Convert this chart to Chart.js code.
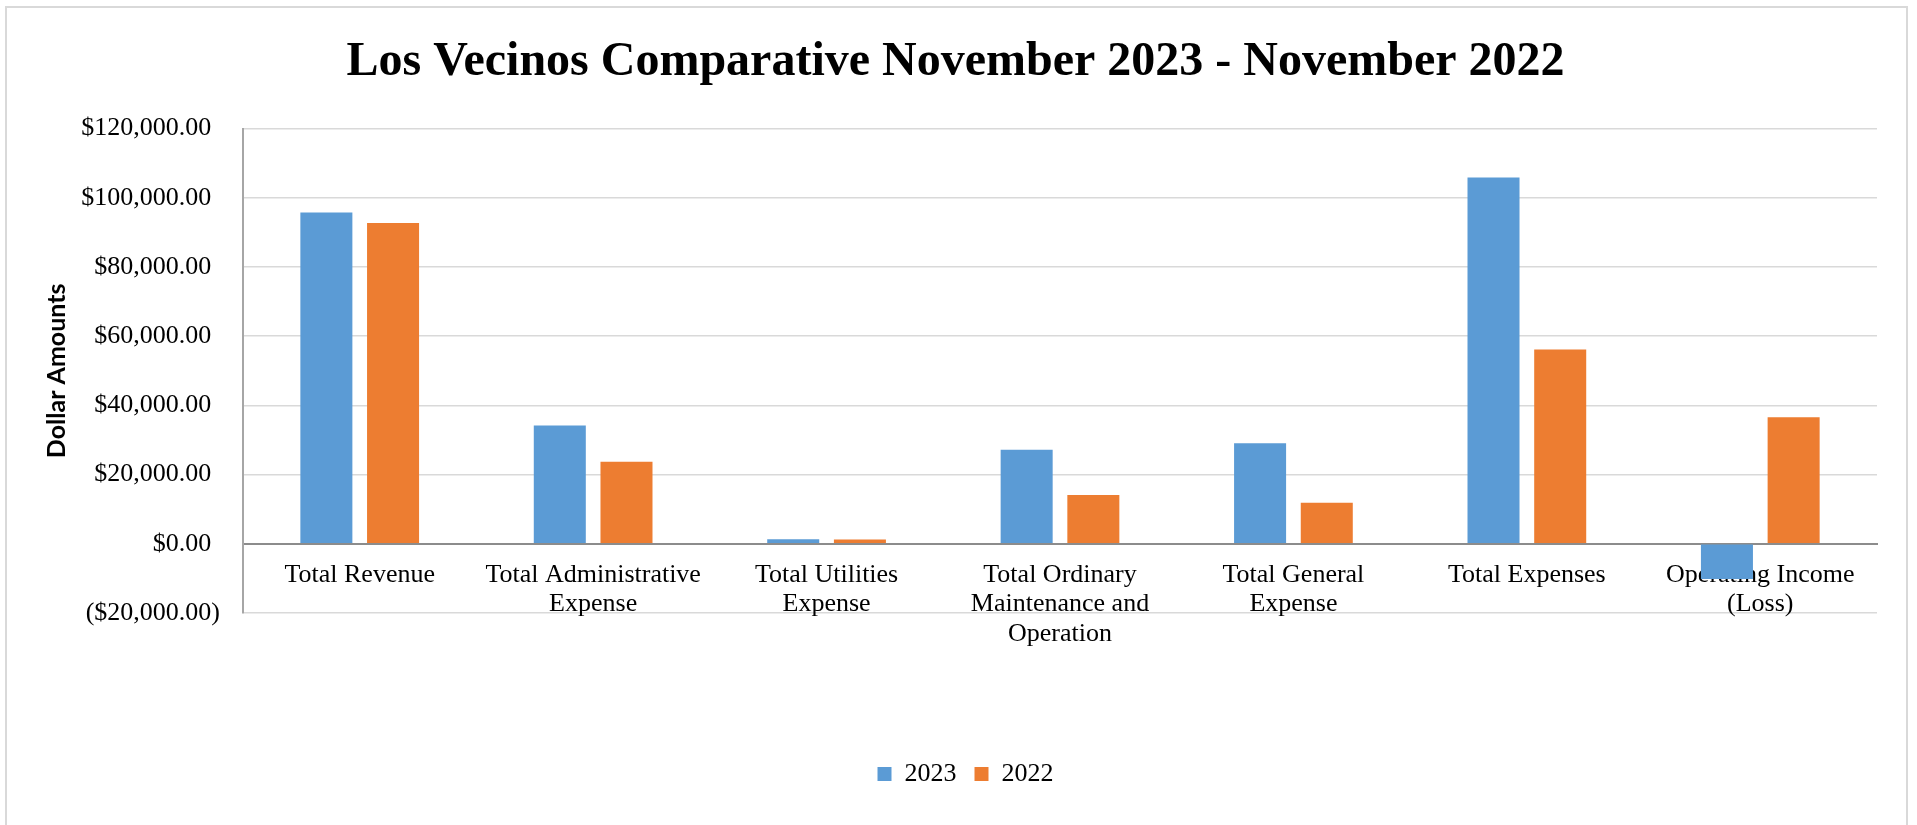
<!DOCTYPE html>
<html>
<head>
<meta charset="utf-8">
<title>Los Vecinos Comparative November 2023 - November 2022</title>
<script src="https://cdn.jsdelivr.net/npm/chart.js@4.4.1/dist/chart.umd.min.js"></script>
<style>
  html, body { margin: 0; padding: 0; background: #ffffff; }
  #wrap { position: relative; width: 1917px; height: 825px; overflow: hidden; }
  #frame {
    position: absolute; left: 5px; top: 6px; width: 1903px; height: 840px;
    border: 2px solid #d9d9d9; box-sizing: border-box; background: #ffffff;
  }
  #chart { position: absolute; left: 0; top: 0; }
</style>
</head>
<body>
<div id="wrap">
  <div id="frame"></div>
  <canvas id="chart" width="1917" height="825"></canvas>
</div>
<script>
// Categories (each entry is the wrapped label lines)
const categories = [
  ["Total Revenue"],
  ["Total Administrative", "Expense"],
  ["Total Utilities", "Expense"],
  ["Total Ordinary", "Maintenance and", "Operation"],
  ["Total General", "Expense"],
  ["Total Expenses"],
  ["Operating Income", "(Loss)"]
];

// Dollar amounts per year
const values2023 = [95740, 34200, 1300, 27160, 29070, 105900, -10160];
const values2022 = [92750, 23680, 1250, 14100, 11880, 56140, 36610];

const seriesNames = ["2023", "2022"];

// Value axis range and step
const yMin = -20000;
const yMax = 120000;
const yStep = 20000;

const serif = "'Liberation Serif', 'Times New Roman', serif";

function money(v) {
  const abs = Math.abs(v);
  const whole = Math.floor(abs).toString().replace(/\B(?=(\d{3})+(?!\d))/g, ",");
  const cents = Math.round((abs - Math.floor(abs)) * 100).toString().padStart(2, "0");
  const s = "$" + whole + "." + cents;
  // positive values keep a paren-width space so digits line up with negatives
  return v < 0 ? "(" + s + ")" : s + "\u2004";
}

// Centres the title on the whole card and moves the legend row
// down into the space under the plot
const blockPlacement = {
  id: "blockPlacement",
  afterLayout(chart) {
    const tb = chart.titleBlock;
    if (tb) {
      tb.left += 7;
      tb.right += 7;
    }
    const lg = chart.legend;
    if (lg) {
      const dy = 130;
      const dx = 17;
      lg.top += dy;
      lg.bottom += dy;
      lg.left += dx;
      lg.right += dx;
    }
  }
};

new Chart(document.getElementById("chart"), {
  type: "bar",
  data: {
    labels: categories,
    datasets: [
      {
        label: seriesNames[0],
        data: values2023,
        backgroundColor: "#5B9BD5",
        borderWidth: 0
      },
      {
        label: seriesNames[1],
        data: values2022,
        backgroundColor: "#ED7D31",
        borderWidth: 0
      }
    ]
  },
  plugins: [blockPlacement],
  options: {
    responsive: false,
    animation: false,
    devicePixelRatio: 1,
    categoryPercentage: 0.5714,
    barPercentage: 0.78,
    layout: { padding: { left: 20, right: 40, top: 0, bottom: 158 } },
    plugins: {
      title: {
        display: true,
        text: "Los Vecinos Comparative November 2023 - November 2022",
        color: "#000000",
        font: { family: serif, size: 48, weight: "bold", lineHeight: 1.2 },
        padding: { top: 34, bottom: 37 }
      },
      legend: {
        display: true,
        position: "bottom",
        labels: {
          color: "#000000",
          font: { family: serif, size: 26, lineHeight: 1.2 },
          boxWidth: 14,
          boxHeight: 14,
          padding: 18
        }
      },
      tooltip: { enabled: false }
    },
    scales: {
      x: {
        position: { y: 0 },
        z: 1,
        grid: { display: false, drawTicks: false },
        border: { display: true, color: "#8c8c8c", width: 2 },
        ticks: {
          color: "#000000",
          font: { family: serif, size: 26, lineHeight: 1.15 },
          padding: 16,
          maxRotation: 0,
          autoSkip: false
        }
      },
      y: {
        min: yMin,
        max: yMax,
        afterFit(scale) { scale.width = 223; },
        grid: { color: "#d9d9d9", lineWidth: 1.5, drawTicks: false },
        border: { display: true, color: "#a6a6a6", width: 2 },
        ticks: {
          stepSize: yStep,
          color: "#000000",
          font: { family: serif, size: 26 },
          padding: 23,
          callback: (v) => money(v)
        },
        title: {
          display: true,
          text: "Dollar Amounts",
          color: "#000000",
          font: { family: "Lato, 'Open Sans', sans-serif", size: 25, weight: "bold", lineHeight: 1.2 },
          padding: { top: 22, bottom: 0 }
        }
      }
    }
  }
});
</script>
</body>
</html>
